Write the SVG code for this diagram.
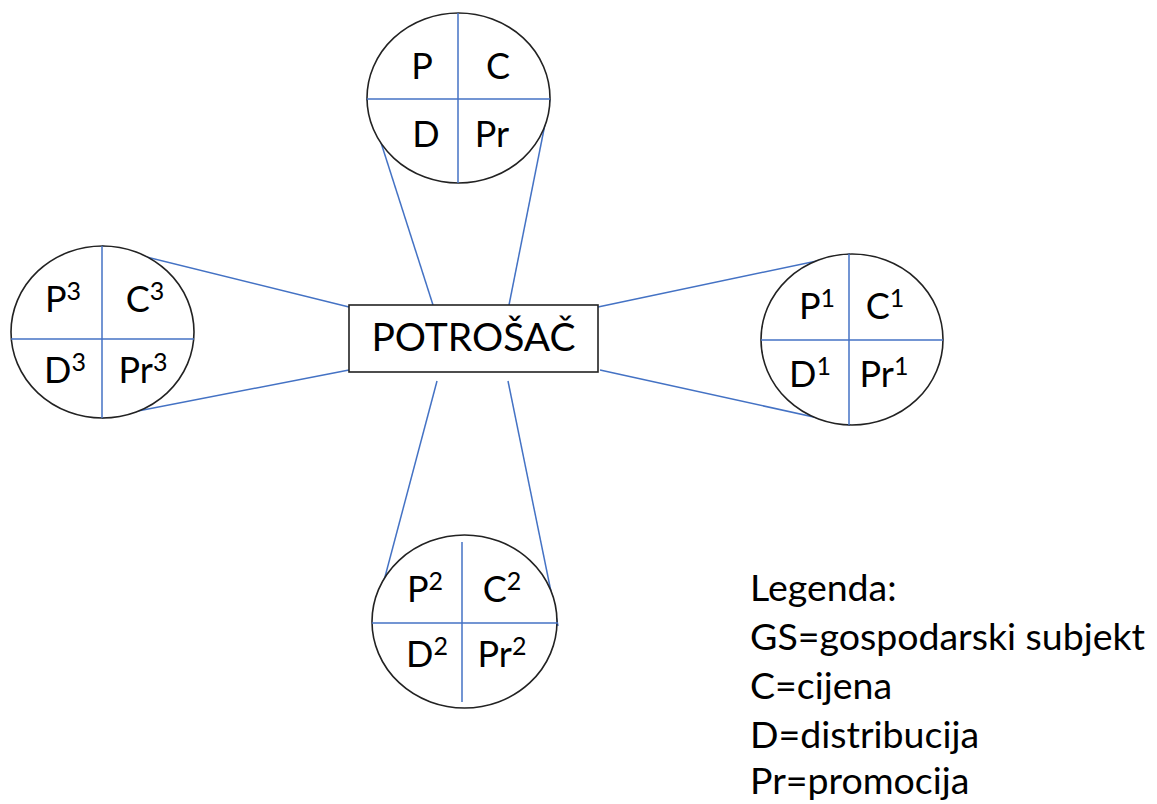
<svg xmlns="http://www.w3.org/2000/svg" width="1157" height="804" viewBox="0 0 1157 804">
<style>
.circ{fill:#fff;stroke:#222;stroke-width:1.6}
.div{stroke:#4472C4;stroke-width:1.5;fill:none}
.con{stroke:#4472C4;stroke-width:1.5;fill:none}
.lbl{font-family:Lato,"Liberation Sans",sans-serif;font-size:36px;fill:#000;text-anchor:middle}
.sup{font-size:25px}
.box{fill:#fff;stroke:#222;stroke-width:1.6}
.main{font-family:Lato,"Liberation Sans",sans-serif;font-size:39px;fill:#000;text-anchor:middle}
.leg{font-family:Lato,"Liberation Sans",sans-serif;font-size:37.5px;fill:#000}
</style>
<rect width="1157" height="804" fill="#fff"/>
<g id="connectors">
<line class="con" x1="367" y1="99" x2="433" y2="305"/>
<line class="con" x1="550" y1="99" x2="509" y2="305"/>
<line class="con" x1="102" y1="246" x2="349" y2="307"/>
<line class="con" x1="102" y1="418" x2="349" y2="370"/>
<line class="con" x1="850" y1="254" x2="598" y2="307"/>
<line class="con" x1="850" y1="425" x2="600" y2="370"/>
<line class="con" x1="437" y1="381" x2="373" y2="622"/>
<line class="con" x1="508" y1="381" x2="558" y2="626"/>
</g>
<g id="potrosac">
<rect class="box" x="349" y="305" width="249" height="67"/>
<text class="main" x="473.5" y="351">POTROŠAČ</text>
</g>
<g id="mix-top">
<ellipse class="circ" cx="458.5" cy="98" rx="91.5" ry="85"/>
<line class="div" x1="367" y1="99" x2="550" y2="99"/>
<line class="div" x1="458" y1="13" x2="458" y2="183"/>
<text class="lbl" x="422" y="79">P</text>
<text class="lbl" x="498" y="79">C</text>
<text class="lbl" x="426" y="147">D</text>
<text class="lbl" x="492" y="147">Pr</text>
</g>
<g id="mix-3">
<ellipse class="circ" cx="102.5" cy="332" rx="91.5" ry="86"/>
<line class="div" x1="11" y1="339" x2="194" y2="339"/>
<line class="div" x1="102" y1="246" x2="102" y2="418"/>
<text class="lbl" x="63" y="312">P<tspan class="sup" dy="-12">3</tspan></text>
<text class="lbl" x="145" y="312">C<tspan class="sup" dy="-12">3</tspan></text>
<text class="lbl" x="65" y="383">D<tspan class="sup" dy="-12">3</tspan></text>
<text class="lbl" x="143" y="383">Pr<tspan class="sup" dy="-12">3</tspan></text>
</g>
<g id="mix-1">
<ellipse class="circ" cx="852" cy="339.5" rx="91" ry="85.5"/>
<line class="div" x1="761" y1="340" x2="943" y2="340"/>
<line class="div" x1="849" y1="254" x2="849" y2="425"/>
<text class="lbl" x="817" y="319">P<tspan class="sup" dy="-12">1</tspan></text>
<text class="lbl" x="885" y="319">C<tspan class="sup" dy="-12">1</tspan></text>
<text class="lbl" x="810" y="387">D<tspan class="sup" dy="-12">1</tspan></text>
<text class="lbl" x="884" y="387">Pr<tspan class="sup" dy="-12">1</tspan></text>
</g>
<g id="mix-2">
<ellipse class="circ" cx="464.5" cy="621.5" rx="92.5" ry="86.5"/>
<line class="div" x1="372" y1="623" x2="558" y2="623"/>
<line class="div" x1="462" y1="542" x2="462" y2="702"/>
<text class="lbl" x="425" y="602">P<tspan class="sup" dy="-12">2</tspan></text>
<text class="lbl" x="502" y="602">C<tspan class="sup" dy="-12">2</tspan></text>
<text class="lbl" x="427" y="667">D<tspan class="sup" dy="-12">2</tspan></text>
<text class="lbl" x="502" y="667">Pr<tspan class="sup" dy="-12">2</tspan></text>
</g>
<g id="legend">
<text class="leg" x="750" y="601">Legenda:</text>
<text class="leg" x="750" y="650">GS=gospodarski subjekt</text>
<text class="leg" x="750" y="699">C=cijena</text>
<text class="leg" x="750" y="748">D=distribucija</text>
<text class="leg" x="750" y="794">Pr=promocija</text>
</g>
</svg>
